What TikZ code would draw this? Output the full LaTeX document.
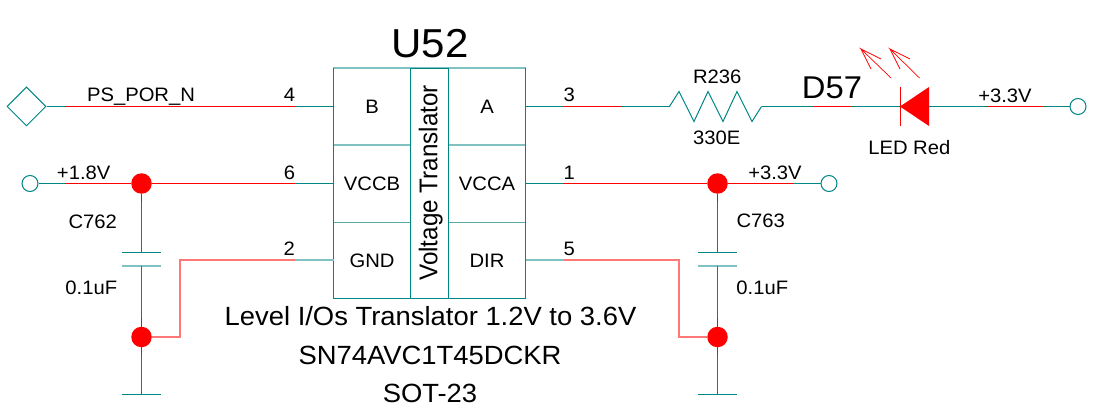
\documentclass[tikz,border=0pt]{standalone}
\usepackage{fontspec}
\setmainfont[FakeStretch=1.04]{Liberation Sans}
\newfontfamily\plainfont{Liberation Sans}
\usetikzlibrary{shapes.geometric}
\definecolor{wireteal}{RGB}{0,133,133}
\definecolor{softteal}{RGB}{128,194,194}
\definecolor{midteal}{RGB}{90,170,170}
\definecolor{wirered}{RGB}{255,0,0}
\definecolor{softred}{RGB}{255,120,120}
\tikzset{
  wire/.style={draw=wireteal,line width=1pt},
  hot/.style={draw=wirered,line width=1pt},
  softwire/.style={draw=softteal,line width=2pt},
  softhot/.style={draw=softred,line width=2pt,line join=miter},
  lbl/.style={anchor=base,inner sep=0pt,text=black,font=\fontsize{19.45}{20}\selectfont},
  big/.style={anchor=base,inner sep=0pt,text=black,font=\fontsize{26.34}{28}\selectfont},
  cell/.style={minimum width=77pt,inner sep=0pt,text=black,font=\fontsize{19.45}{20}\selectfont},
  port/.style={circle,draw=wireteal,line width=1pt,fill=white,minimum size=16pt,inner sep=0pt},
  junction/.style={circle,fill=wirered,minimum size=20.5pt,inner sep=0pt},
  emit/.style={draw=wirered,line width=0.7pt}
}
\begin{document}
\begin{tikzpicture}[x=1pt,y=-1pt]
\useasboundingbox (0,0) rectangle (1095,409);
% chip
\node[cell,minimum height=77pt] (cB) at (372,106.5) {B};
\node[cell,minimum height=77.5pt] (cVB) at (372,183.75) {VCCB};
\node[cell,minimum height=76pt] (cG) at (372,260.5) {GND};
\node[cell,minimum height=77pt] (cA) at (487,106.5) {A};
\node[cell,minimum height=77.5pt] (cVA) at (487,183.75) {VCCA};
\node[cell,minimum height=76pt] (cD) at (487,260.5) {DIR};
\draw[draw=softteal,line width=1.6pt] (cB.north west) -- (cA.north east);
\draw[softwire] (cB.south west) -- (cB.south east);
\draw[softwire] (cA.south west) -- (cA.south east);
\draw[draw=midteal,line width=1pt] (cG.north west) -- (cG.north east);
\draw[draw=midteal,line width=1pt] (cD.north west) -- (cD.north east);
\draw[wire] (cB.north west) -- (cG.south west) -- (cD.south east) -- (cA.north east);
\node[draw=wireteal,line width=1pt,minimum width=38pt,minimum height=230pt,inner sep=0pt] (mid) at (429.5,183.5) {};
\node[anchor=base,inner sep=0pt,text=black,font=\plainfont\fontsize{24.2}{26}\selectfont,xscale=1.06,rotate=90] (vt) at (437.3,183) {Voltage Translator};
% terminals
\node[diamond,draw=wireteal,line width=1pt,minimum width=39pt,minimum height=39pt,inner sep=0pt] (io) at (26.5,106.5) {};
\node[port] (p18) at (30,183.5) {};
\node[port] (p33a) at (829,183.5) {};
\node[port] (p33b) at (1078,106.5) {};
\node[junction] (j1) at (141.5,183.5) {};
\node[junction] (j2) at (141.5,337) {};
\node[junction] (j3) at (717.5,183.5) {};
\node[junction] (j4) at (717.5,337) {};
% named points
\coordinate (a1) at (65,106.5); \coordinate (a2) at (295,106.5);
\coordinate (b1) at (65,183.5); \coordinate (b2) at (295,183.5);
\coordinate (c1) at (333.5,260); \coordinate (c2) at (295,260); \coordinate (c3) at (180,260); \coordinate (c4) at (180,337);
\coordinate (d1) at (564,106.5); \coordinate (d2) at (621,106.5);
\coordinate (rL) at (669.5,106.5); \coordinate (rR) at (761.5,106.5);
\coordinate (e1) at (813,106.5); \coordinate (e2) at (851,106.5);
\coordinate (ledK) at (900,106.5); \coordinate (ledA) at (929,106.5);
\coordinate (f1) at (987,106.5); \coordinate (f2) at (1043,106.5);
\coordinate (g1) at (564,183.5); \coordinate (g2) at (793,183.5);
\coordinate (h0) at (525.5,260); \coordinate (h1) at (564,260); \coordinate (h2) at (679,260); \coordinate (h3) at (679,337);
\coordinate (pA1) at (141.5,252.5); \coordinate (pA2) at (141.5,266);
\coordinate (gA) at (141.5,394.5);
\coordinate (pB1) at (717.5,252.5); \coordinate (pB2) at (717.5,266);
\coordinate (gB) at (717.5,394.5);
% wires
\draw[wire] (io.east) -- (a1);
\draw[hot] (a1) -- (a2);
\draw[wire] (a2) -- (cB.west);
\draw[wire] (p18.east) -- (b1);
\draw[hot] (b1) -- (j1.west);
\draw[hot] (j1.east) -- (b2);
\draw[wire] (b2) -- (333.5,183.5);
\draw[softwire] (c1) -- (c2);
\draw[softhot] (c2) -- (c3) -- (c4) -- (j2.east);
\draw[wire] (cA.east) -- (d1);
\draw[hot] (d1) -- (d2);
\draw[wire] (d2) -- (rL);
\draw[wire] (rL) -- (679,91.5) -- (694,121.5) -- (708,91.5) -- (723,121.5) -- (737,91.5) -- (752,121.5) -- (rR);
\draw[wire] (rR) -- (e1);
\draw[hot] (e1) -- (e2);
\draw[wire] (e2) -- (ledK);
\draw[wire] (ledA) -- (f1);
\draw[hot] (f1) -- (f2);
\draw[wire] (f2) -- (p33b.west);
\draw[wire] (525.5,183.5) -- (g1);
\draw[hot] (g1) -- (j3.west);
\draw[hot] (j3.east) -- (g2);
\draw[wire] (g2) -- (p33a.west);
\draw[softwire] (h0) -- (h1);
\draw[softhot] (h1) -- (h2) -- (h3) -- (j4.west);
% capacitors
\draw[wire] (j1.south) ++(0,8) -- (pA1);
\draw[hot] (j1.south) -- ++(0,8);
\draw[wire] (122,252.5) -- (161,252.5);
\draw[softwire] (122,266) -- (161,266);
\draw[wire] (pA2) -- (141.5,318);
\draw[hot] (141.5,318) -- (j2.north);
\draw[hot] (j2.south) -- (141.5,355);
\draw[wire] (141.5,355) -- (gA);
\draw[wire] (122,394.5) -- (161,394.5);
\draw[wire] (j3.south) ++(0,8) -- (pB1);
\draw[hot] (j3.south) -- ++(0,8);
\draw[wire] (698,252.5) -- (737,252.5);
\draw[softwire] (698,266) -- (737,266);
\draw[wire] (pB2) -- (717.5,318);
\draw[hot] (717.5,318) -- (j4.north);
\draw[hot] (j4.south) -- (717.5,355);
\draw[wire] (717.5,355) -- (gB);
\draw[wire] (698,394.5) -- (737,394.5);
% LED
\fill[wirered] (ledK) -- (929,87) -- (929,126) -- cycle;
\draw[hot] (900,87) -- (900,126);
\draw[emit] (891,78) -- (861,49) -- (881,59);
\draw[emit] (861,49) -- (871,69);
\draw[emit] (919.5,78) -- (890,49) -- (910,59);
\draw[emit] (890,49) -- (900,69);
% labels
\node[anchor=base,inner sep=0pt,font=\fontsize{40.4}{42}\selectfont] (u52) at (430,58) {U52};
\node[anchor=base,inner sep=0pt,font=\fontsize{31.5}{33}\selectfont] (d57) at (832,98.3) {D57};
\node[lbl] (t1) at (141,101.7) {PS\_POR\_N};
\node[lbl] (t2) at (289.5,101.7) {4};
\node[lbl] (t3) at (83.7,179) {+1.8V};
\node[lbl] (t4) at (289.5,179) {6};
\node[lbl] (t5) at (289.3,255) {2};
\node[lbl] (t6) at (569.3,101.7) {3};
\node[lbl] (t7) at (569.3,179) {1};
\node[lbl] (t8) at (569.3,255) {5};
\node[lbl] (t9) at (717.3,83.3) {R236};
\node[lbl] (t10) at (716.7,144.3) {330E};
\node[lbl] (t11) at (909.3,154) {LED Red};
\node[lbl] (t12) at (1005,102.3) {+3.3V};
\node[lbl] (t13) at (775,179) {+3.3V};
\node[lbl] (t14) at (760.7,227.7) {C763};
\node[lbl] (t15) at (762.3,294) {0.1uF};
\node[lbl] (t16) at (92.7,228.3) {C762};
\node[lbl] (t17) at (91.3,294.3) {0.1uF};
\node[big] (t18) at (430.5,325.5) {Level I/Os Translator 1.2V to 3.6V};
\node[big] (t19) at (430,364) {SN74AVC1T45DCKR};
\node[big] (t20) at (430,402) {SOT-23};
\end{tikzpicture}
\end{document}
